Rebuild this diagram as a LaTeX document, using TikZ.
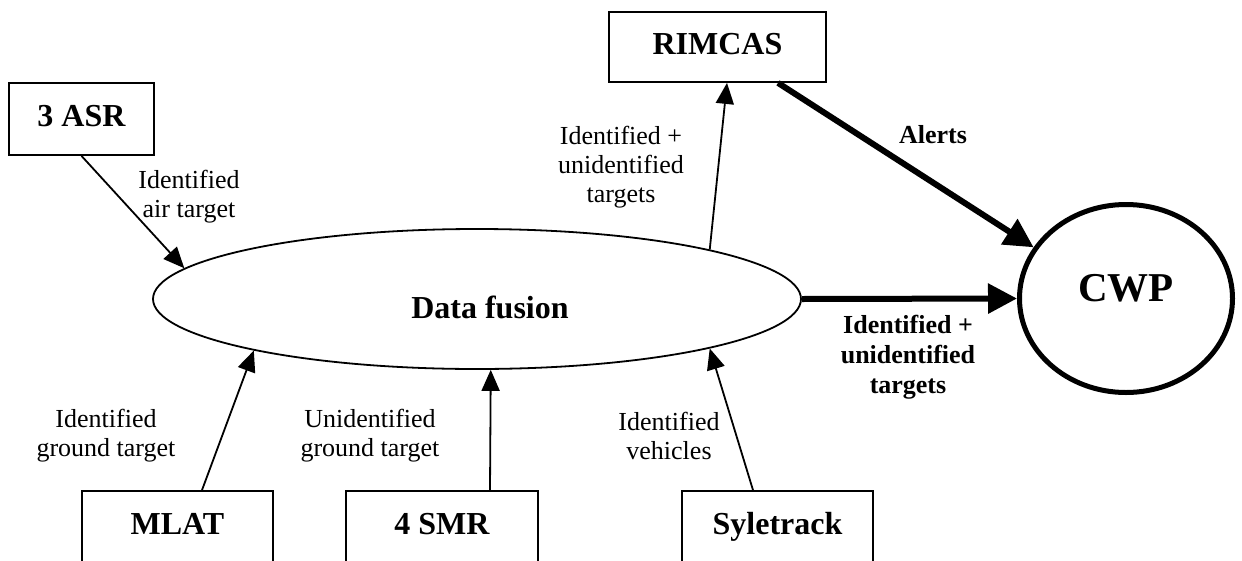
\documentclass[tikz,border=0pt]{standalone}
\usepackage{fontspec}
\setmainfont{Liberation Serif}
\usetikzlibrary{arrows.meta,shapes.geometric}
\begin{document}
\begin{tikzpicture}[x=1pt,y=-1pt,
  box/.style={draw,line width=1.8pt,rectangle,inner sep=0pt,
    font=\fontsize{32}{36}\selectfont\bfseries,text height=22pt,text depth=8pt},
  lbl/.style={font=\fontsize{26}{29}\selectfont,align=center,inner sep=0pt},
  blbl/.style={font=\fontsize{26}{30}\selectfont\bfseries,align=center,inner sep=0pt},
  thinarr/.style={line width=1.8pt,-{Triangle[length=21pt,width=18pt]}},
  thickarr/.style={line width=6pt,-{Triangle[length=29pt,width=29pt]}}
]
\useasboundingbox (0,0) rectangle (1242,560);

\node[box,minimum width=145pt,minimum height=72pt] (asr) at (81.5,119) {3 ASR};
\node[box,minimum width=217pt,minimum height=70pt] (rimcas) at (717.5,47) {RIMCAS};
\node[box,minimum width=191pt,minimum height=72pt] (mlat) at (177.5,527) {MLAT};
\node[box,minimum width=192pt,minimum height=72pt] (smr) at (442,527) {4 SMR};
\node[box,minimum width=191pt,minimum height=72pt] (syl) at (777.5,527) {Syletrack};

\node[draw,ellipse,line width=1.8pt,minimum width=648pt,minimum height=140pt,inner sep=0pt,
  font=\fontsize{32}{36}\selectfont\bfseries,text height=40pt,text depth=2pt] (df) at (477,299) {\hspace*{26pt}Data fusion};

\node[draw,ellipse,line width=5pt,minimum width=213pt,minimum height=188pt,inner sep=0pt,
  font=\fontsize{41}{45}\selectfont\bfseries,text height=28pt,text depth=22pt] (cwp) at (1126,298.5) {CWP};

\draw[thinarr] (asr.south) -- (df.174.9);
\draw[thinarr] (df.12.1) -- ([xshift=9.5pt]rimcas.south);
\draw[thinarr] ([xshift=24.5pt]mlat.north) -- (df.-167.3);
\draw[thinarr] ([xshift=48pt]smr.north) -- (df.-79.5);
\draw[thinarr] ([xshift=-24.5pt]syl.north) -- (df.-12.5);
\draw[thickarr] (df.east) -- (cwp.west);
\draw[thickarr] ([xshift=60.5pt]rimcas.south) -- (cwp.151.7);

\node[lbl] (l1) at (189,197) {Identified\\air target};
\node[lbl] (l2) at (621,167) {Identified +\\unidentified\\targets};
\node[blbl] (l3) at (933,135) {Alerts};
\node[blbl] (l4) at (908,357) {Identified +\\unidentified\\targets};
\node[lbl] (l5) at (106,436) {Identified\\ground target};
\node[lbl] (l6) at (370,436) {Unidentified\\ground target};
\node[lbl] (l7) at (669,436) {Identified\\vehicles};
\end{tikzpicture}
\end{document}
